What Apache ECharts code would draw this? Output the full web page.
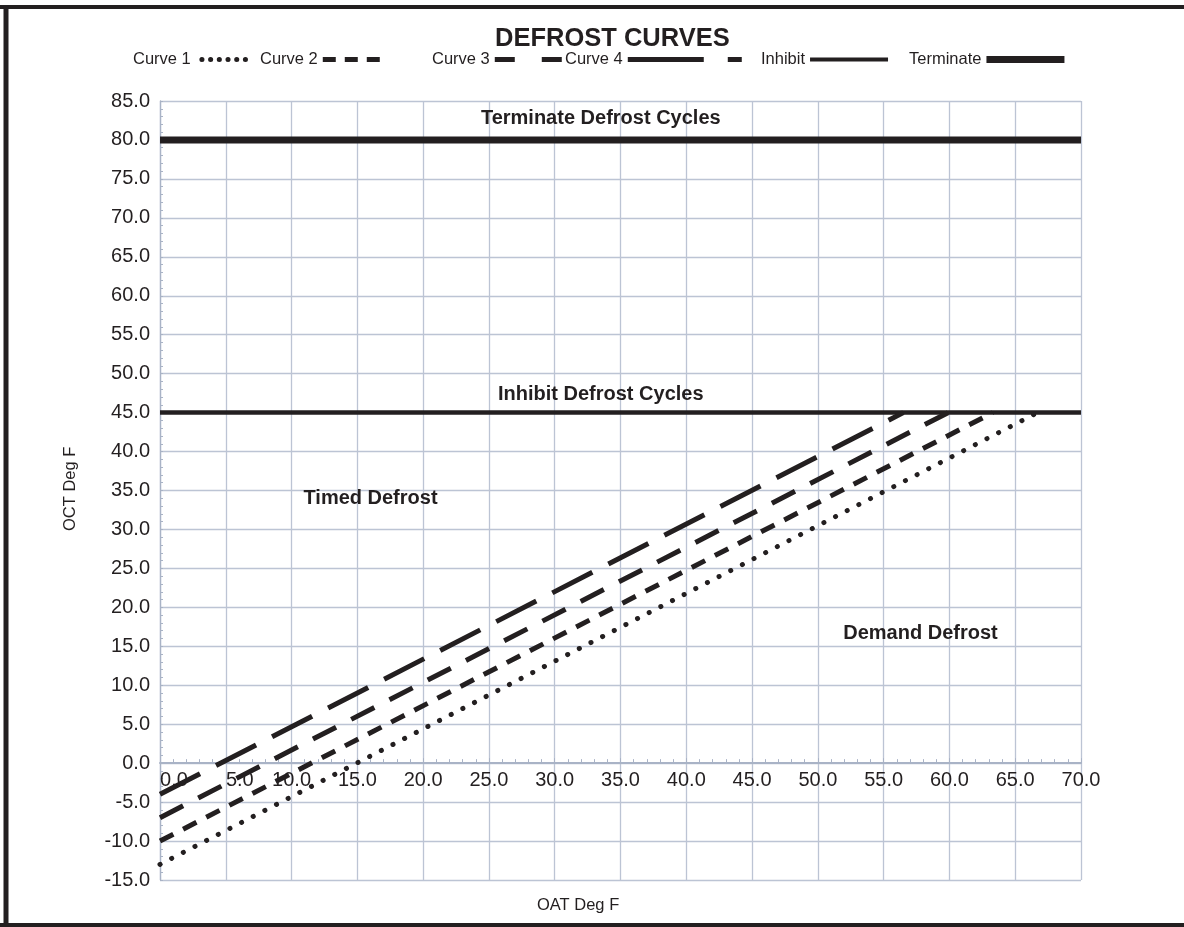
<!DOCTYPE html>
<html><head><meta charset="utf-8">
<script src="https://cdn.jsdelivr.net/npm/echarts@6/dist/echarts.min.js"></script>
<style>html,body{margin:0;padding:0;background:#fff}#c{width:1184px;height:927px}</style>
</head><body><div id="c"></div>
<script>
// ---- data ----
const seriesNames = ['Curve 1', 'Curve 2', 'Curve 3', 'Curve 4', 'Inhibit', 'Terminate'];
const curve1OAT = [0, 66.7];  const curve1OCT = [-13, 45];
const curve2OAT = [0, 63.3];  const curve2OCT = [-10, 45];
const curve3OAT = [0, 59.9];  const curve3OCT = [-7, 45];
const curve4OAT = [0, 56.5];  const curve4OCT = [-4, 45];
const inhibitOAT = [0, 70];   const inhibitOCT = [45, 45];
const terminateOAT = [0, 70]; const terminateOCT = [80, 80];
const annotationNames = ['Terminate Defrost Cycles', 'Inhibit Defrost Cycles', 'Timed Defrost', 'Demand Defrost'];
const annotationOAT = [33.5, 33.5, 16.0, 57.8];
const annotationOCT = [82.8, 47.3, 34.0, 16.6];
const xTickValues = [0, 5, 10, 15, 20, 25, 30, 35, 40, 45, 50, 55, 60, 65, 70];
const xMin = 0, xMax = 70, xStep = 5;
const yMin = -15, yMax = 85, yStep = 5;

const zip = (a, b) => a.map((v, i) => [v, b[i]]);
const INK = '#231f20';
const GRID = '#bcc4d4';
const AXIS = '#a9b3c6';
const FONT = 'Liberation Sans, Arial, sans-serif';

const chart = echarts.init(document.getElementById('c'), null, {renderer: 'canvas'});

function lineSeries(name, data, width, dash, cap) {
  return {
    name, type: 'line', data, symbol: 'none', silent: true, animation: false, z: 3,
    lineStyle: {color: INK, width, type: dash, cap: cap || 'butt'},
    itemStyle: {color: INK},
    emphasis: {disabled: true}
  };
}

const legendSpec = [
  {name: 'Curve 1', left: 133, w: 58, lw: 5, dash: [0.1, 8.6], cap: 'round', off: 2.6},
  {name: 'Curve 2', left: 260, w: 57, lw: 5, dash: [13, 9]},
  {name: 'Curve 3', left: 432, w: 67, lw: 5, dash: [20, 27]},
  {name: 'Curve 4', left: 565, w: 114, lw: 5, dash: [76, 24]},
  {name: 'Inhibit', left: 761, w: 78, lw: 4, dash: 'solid'},
  {name: 'Terminate', left: 909, w: 78, lw: 7, dash: 'solid'}
];

const option = {
  animation: false,
  backgroundColor: '#fff',
  title: {
    text: 'DEFROST CURVES', left: 490, top: 21,
    textStyle: {fontFamily: FONT, fontWeight: 'bold', fontSize: 25.5, color: INK}
  },
  legend: legendSpec.map(s => ({
    data: [s.name], left: s.left, top: 51, padding: 0, align: 'right',
    itemWidth: s.w, itemHeight: 2, selectedMode: false,
    textStyle: {fontFamily: FONT, fontSize: 16.5, color: INK},
    itemStyle: {opacity: 0, color: 'rgba(0,0,0,0)', borderWidth: 0},
    lineStyle: {type: s.dash, width: s.lw, cap: s.cap || 'butt', color: INK, opacity: 1, dashOffset: s.off || 0}
  })),
  grid: {left: 160, right: 103, top: 101, bottom: 47, containLabel: false},
  xAxis: {
    type: 'value', min: xMin, max: xMax, interval: xStep,
    axisLine: {show: true, onZero: true, lineStyle: {color: AXIS, width: 2}},
    axisTick: {show: true, inside: true, length: 5, lineStyle: {color: AXIS}},
    minorTick: {show: true, splitNumber: 5, length: 4, lineStyle: {color: AXIS}},
    splitLine: {show: true, lineStyle: {color: GRID, width: 1.3}},
    axisLabel: {show: false}
  },
  yAxis: {
    type: 'value', min: yMin, max: yMax, interval: yStep,
    axisLine: {show: true, lineStyle: {color: AXIS, width: 1.3}},
    axisTick: {show: true, inside: true, length: 3, lineStyle: {color: AXIS}},
    minorTick: {show: true, splitNumber: 5, length: 3, lineStyle: {color: AXIS}},
    splitLine: {show: true, lineStyle: {color: GRID, width: 1.3}},
    axisLabel: {
      show: true, margin: 10, color: INK, fontFamily: FONT, fontSize: 20,
      showMinLabel: true, showMaxLabel: true,
      formatter: v => v.toFixed(1)
    }
  },
  series: [
    {
      // x-axis tick labels sitting just under the OCT = 0 axis line (drawn beneath the curves)
      type: 'scatter', symbolSize: 0, silent: true, z: 1,
      itemStyle: {color: INK, opacity: 1},
      data: xTickValues.map(v => ({
        value: [v, 0],
        label: {offset: [v < 10 ? 14 : 0, 0]}
      })),
      label: {show: true, position: 'bottom', distance: 7, formatter: p => p.value[0].toFixed(1),
        fontFamily: FONT, fontSize: 20, color: INK, opacity: 1, textBorderWidth: 0},
      emphasis: {disabled: true}
    },
    lineSeries('Inhibit', zip(inhibitOAT, inhibitOCT), 4.5, 'solid'),
    lineSeries('Terminate', zip(terminateOAT, terminateOCT), 7, 'solid'),
    lineSeries('Curve 1', zip(curve1OAT, curve1OCT), 5, [0.1, 13], 'round'),
    lineSeries('Curve 2', zip(curve2OAT, curve2OCT), 5, [15, 11]),
    lineSeries('Curve 3', zip(curve3OAT, curve3OCT), 5, [26, 17]),
    lineSeries('Curve 4', zip(curve4OAT, curve4OCT), 5, [45, 18]),
    {
      type: 'scatter', symbolSize: 0, silent: true, z: 5,
      itemStyle: {color: INK, opacity: 1},
      data: annotationNames.map((n, i) => ({name: n, value: [annotationOAT[i], annotationOCT[i]]})),
      label: {show: true, position: [0, 0], align: 'center', verticalAlign: 'middle', formatter: p => p.name,
        fontFamily: FONT, fontWeight: 'bold', fontSize: 20, color: INK, opacity: 1, textBorderWidth: 0},
      emphasis: {disabled: true}
    }
  ],
  graphic: [
    {type: 'line', shape: {x1: 0, y1: 7, x2: 1184, y2: 7}, style: {stroke: INK, lineWidth: 4}, silent: true},
    {type: 'line', shape: {x1: 6, y1: 5, x2: 6, y2: 927}, style: {stroke: INK, lineWidth: 5}, silent: true},
    {type: 'line', shape: {x1: 0, y1: 925, x2: 1184, y2: 925}, style: {stroke: INK, lineWidth: 4}, silent: true},
    {type: 'text', left: 537, top: 897, style: {text: 'OAT Deg F', font: '16.5px ' + FONT, fill: INK}, silent: true},
    {type: 'text', x: 62, y: 531, rotation: Math.PI / 2, style: {text: 'OCT Deg F', font: '16.5px ' + FONT, fill: INK}, silent: true}
  ]
};
chart.setOption(option);
</script>
</body></html>
